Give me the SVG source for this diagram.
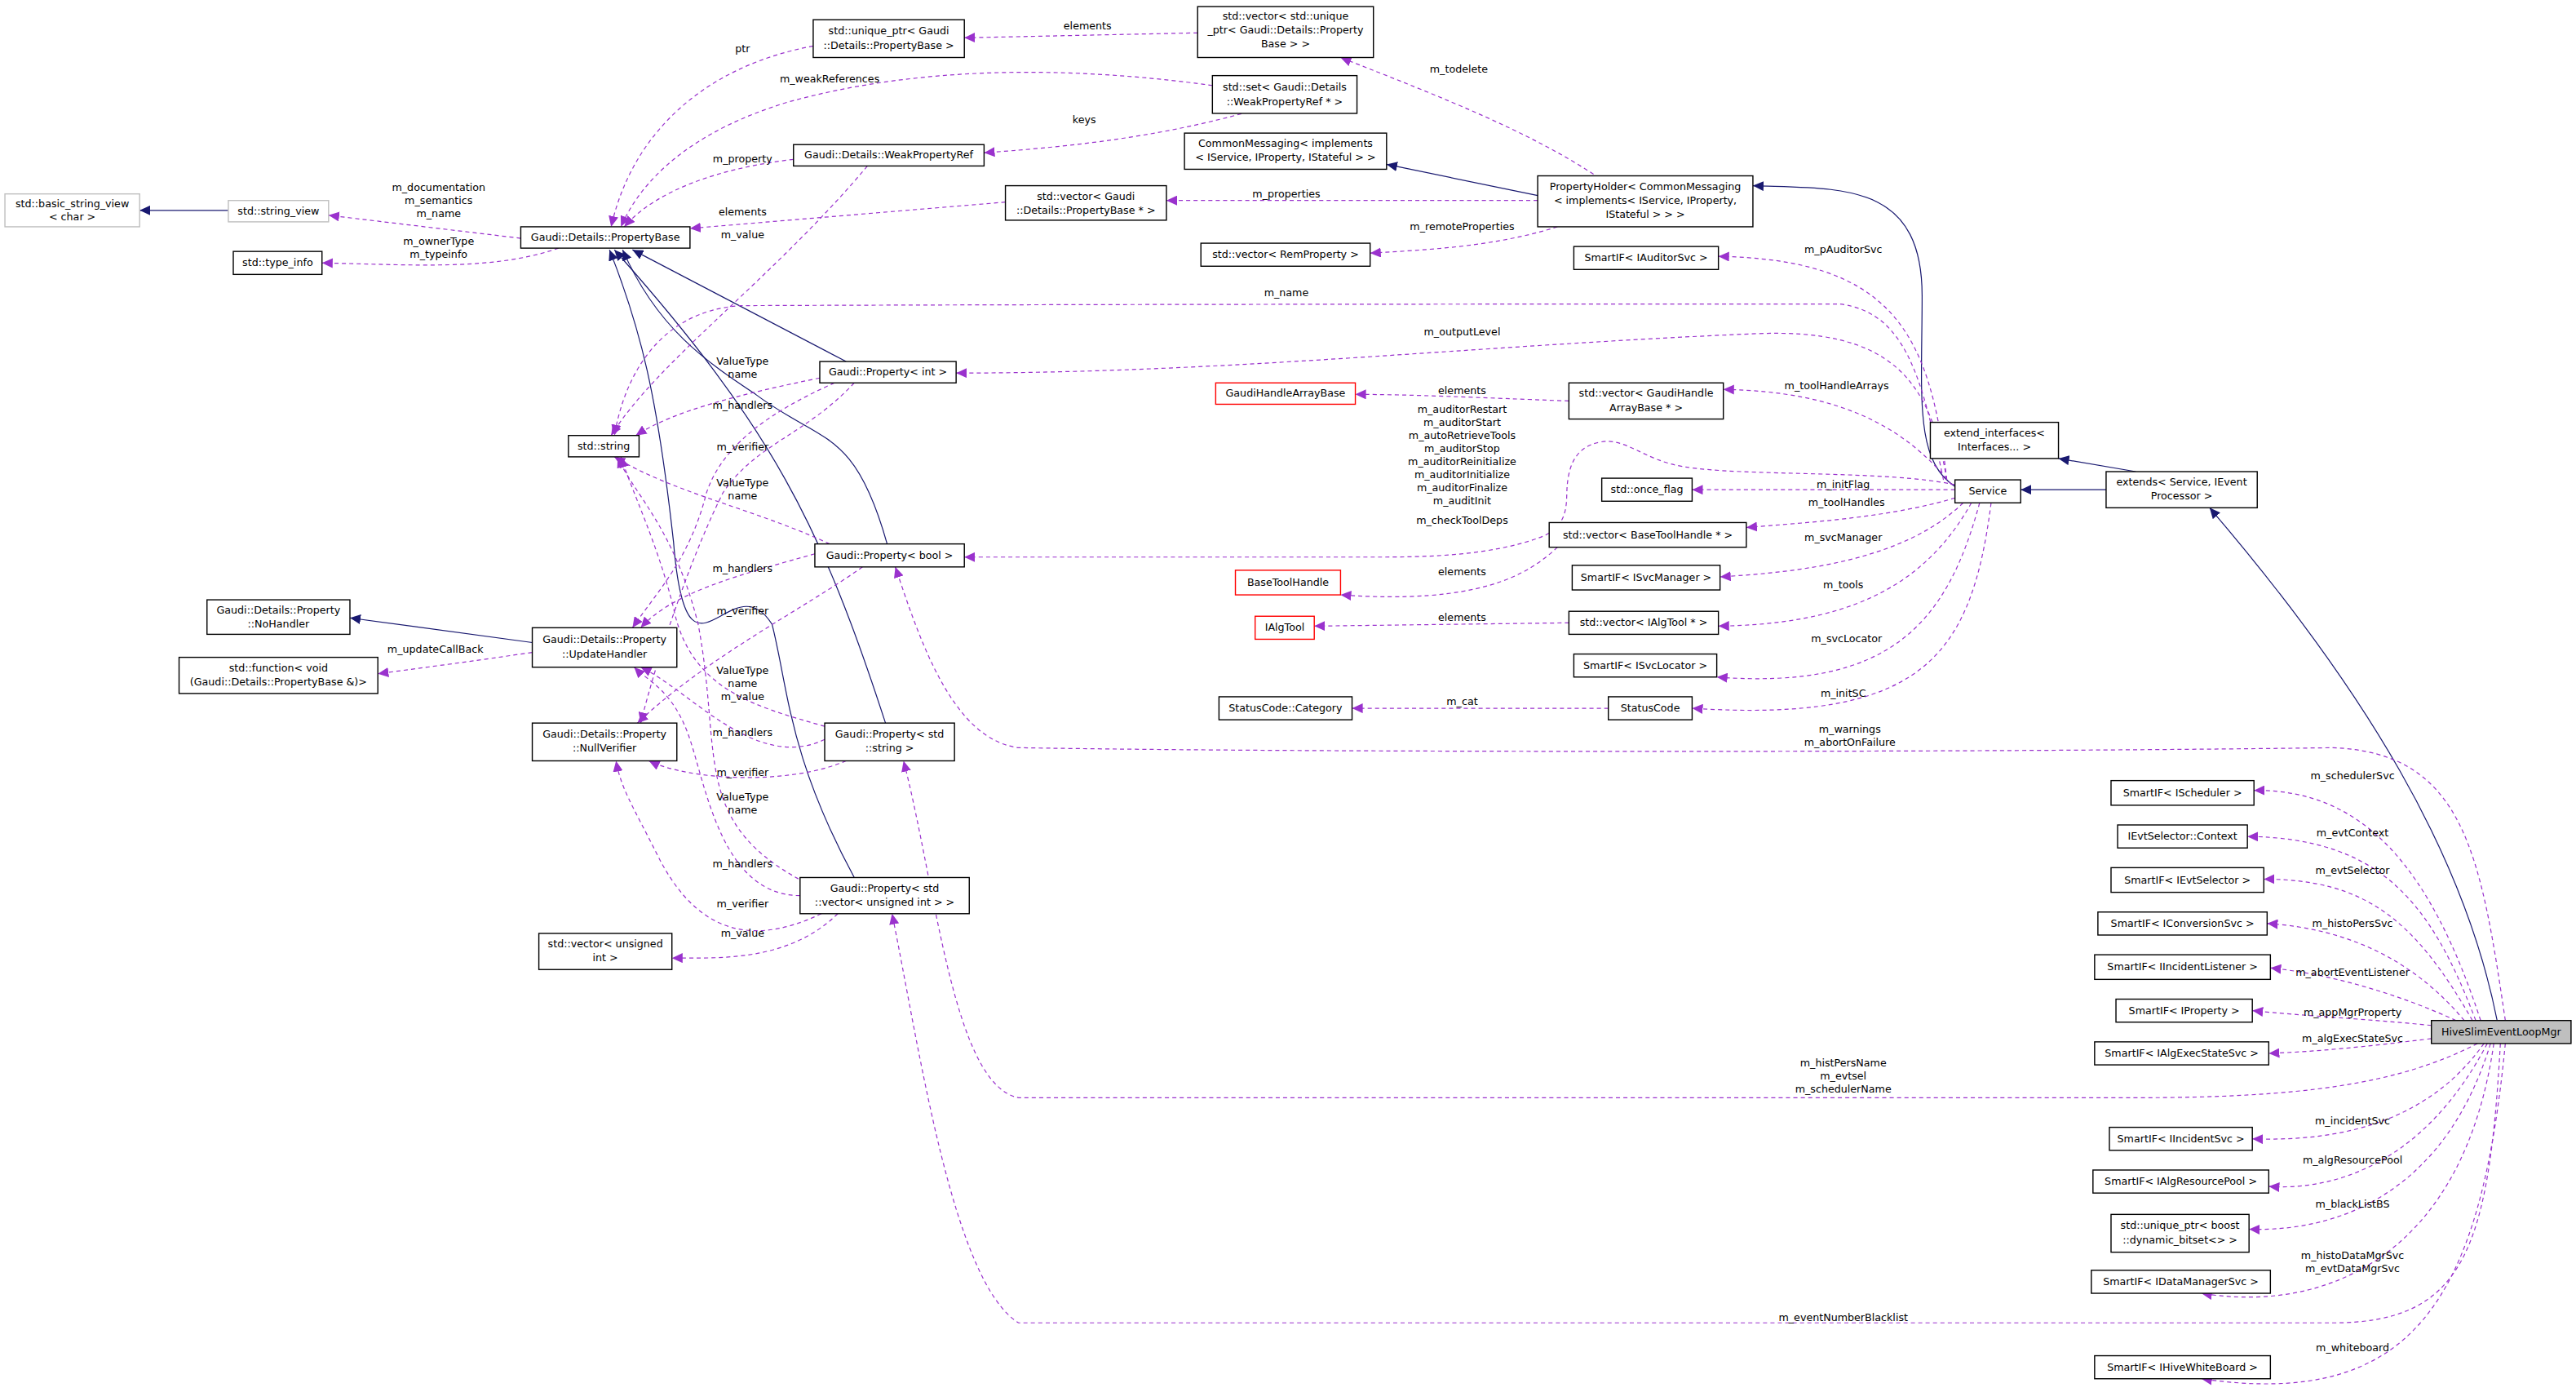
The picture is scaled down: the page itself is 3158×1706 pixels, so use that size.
<svg xmlns="http://www.w3.org/2000/svg" width="3158" height="1706" viewBox="0 0 3158 1706">
<style>
text{font-family:"DejaVu Sans","Liberation Sans",sans-serif;font-size:6.3px;fill:#000}
.n rect{fill:#fff;stroke:#000;stroke-width:0.7}
.n text{text-anchor:middle}
.g rect{stroke:#bfbfbf}
.r rect{stroke:#ff0000}
.h rect{fill:#bfbfbf}
.e{fill:none;stroke:#9a32cd;stroke-width:0.6;stroke-dasharray:2.5,2}
.i{fill:none;stroke:#191970;stroke-width:0.6}
.l{text-anchor:middle}
</style>
<defs>
<marker id="ap" markerUnits="userSpaceOnUse" markerWidth="7" markerHeight="6" refX="6.5" refY="3" orient="auto"><path d="M0,0 L6.5,3 L0,6 Z" fill="#9a32cd"/></marker>
<marker id="an" markerUnits="userSpaceOnUse" markerWidth="7" markerHeight="6" refX="6.5" refY="3" orient="auto"><path d="M0,0 L6.5,3 L0,6 Z" fill="#191970"/></marker>
</defs>
<rect width="3158" height="1706" fill="#fff"/>
<g transform="scale(2.014)">
<g id="connectors">
<path class="i" marker-end="url(#an)" d="M139,128 L85,128"/>
<path class="i" marker-end="url(#an)" d="M324,391 L213,376"/>
<path class="i" marker-end="url(#an)" d="M515,220 L385,152"/>
<path class="i" marker-end="url(#an)" d="M540,331 C520,260 500,270 460,240 C430,220 400,200 379,152"/>
<path class="i" marker-end="url(#an)" d="M539,440 C500,320 470,260 374,152"/>
<path class="i" marker-end="url(#an)" d="M520,534 C480,460 480,420 470,380 C445,340 418,430 410,330 C400,240 390,200 371,152"/>
<path class="i" marker-end="url(#an)" d="M936,119 L844,100"/>
<path class="i" marker-end="url(#an)" d="M1190,296 C1165,280 1170,240 1170,180 C1170,110 1120,115 1067,113"/>
<path class="i" marker-end="url(#an)" d="M1282,298 L1230,298"/>
<path class="i" marker-end="url(#an)" d="M1300,287 L1253,279"/>
<path class="i" marker-end="url(#an)" d="M1520,621 C1500,520 1440,420 1345,309"/>
<path class="e" marker-end="url(#ap)" d="M495,28 C430,40 385,80 372,138"/>
<path class="e" marker-end="url(#ap)" d="M729,20 L587,23"/>
<path class="e" marker-end="url(#ap)" d="M738,52 C650,40 560,40 480,62 C420,80 390,110 378,138"/>
<path class="e" marker-end="url(#ap)" d="M760,68 C700,85 640,90 599,93"/>
<path class="e" marker-end="url(#ap)" d="M483,97 C440,102 400,115 380,138"/>
<path class="e" marker-end="url(#ap)" d="M612,123 L420,139"/>
<path class="e" marker-end="url(#ap)" d="M528,101 C470,170 400,220 372,265"/>
<path class="e" marker-end="url(#ap)" d="M317,145 L200,131"/>
<path class="e" marker-end="url(#ap)" d="M340,151 C300,165 250,161 196,160"/>
<path class="e" marker-end="url(#ap)" d="M970,106 C930,80 880,60 816,35"/>
<path class="e" marker-end="url(#ap)" d="M936,122 L710,122"/>
<path class="e" marker-end="url(#ap)" d="M948,138 C910,150 870,152 834,154"/>
<path class="e" marker-end="url(#ap)" d="M1185,292 C1175,200 1150,158 1046,156"/>
<path class="e" marker-end="url(#ap)" d="M1183,292 C1170,230 1160,190 1120,185 C1000,185 700,185 450,186 C400,190 380,230 374,265"/>
<path class="e" marker-end="url(#ap)" d="M1185,292 C1175,230 1150,200 1070,203 C900,210 750,227 582,227"/>
<path class="e" marker-end="url(#ap)" d="M955,244 C900,242 860,240 825,240"/>
<path class="e" marker-end="url(#ap)" d="M1188,295 C1160,260 1120,238 1049,237"/>
<path class="e" marker-end="url(#ap)" d="M1190,295 C1150,286 1060,290 1025,284 C1000,280 990,266 974,269 C958,272 955,285 954,295 C953,305 956,318 940,326 C910,338 870,339 839,339 C750,339 650,339 587,339"/>
<path class="e" marker-end="url(#ap)" d="M1190,298 L1030,298"/>
<path class="e" marker-end="url(#ap)" d="M1190,303 C1150,315 1100,318 1063,321"/>
<path class="e" marker-end="url(#ap)" d="M948,333 C930,350 900,368 816,362"/>
<path class="e" marker-end="url(#ap)" d="M1195,306 C1160,340 1100,348 1047,351"/>
<path class="e" marker-end="url(#ap)" d="M1200,306 C1170,360 1120,380 1046,381"/>
<path class="e" marker-end="url(#ap)" d="M955,379 L800,381"/>
<path class="e" marker-end="url(#ap)" d="M1205,306 C1185,380 1150,420 1045,412"/>
<path class="e" marker-end="url(#ap)" d="M1212,306 C1200,400 1170,440 1030,431"/>
<path class="e" marker-end="url(#ap)" d="M979,431 L823,431"/>
<path class="e" marker-end="url(#ap)" d="M324,397 C290,402 260,406 230,410"/>
<path class="e" marker-end="url(#ap)" d="M499,230 C450,240 410,250 387,265"/>
<path class="e" marker-end="url(#ap)" d="M508,233 C470,250 440,270 430,300 C420,340 400,360 385,382"/>
<path class="e" marker-end="url(#ap)" d="M520,233 C490,265 460,270 440,300 C420,340 400,400 390,440"/>
<path class="e" marker-end="url(#ap)" d="M505,331 C460,310 410,300 374,278"/>
<path class="e" marker-end="url(#ap)" d="M496,337 C450,350 410,360 390,382"/>
<path class="e" marker-end="url(#ap)" d="M525,345 C490,370 430,400 388,440"/>
<path class="e" marker-end="url(#ap)" d="M502,442 C460,430 420,420 410,370 C400,330 385,300 378,278"/>
<path class="e" marker-end="url(#ap)" d="M502,450 C460,470 420,420 390,406"/>
<path class="e" marker-end="url(#ap)" d="M515,463 C480,478 420,475 395,463"/>
<path class="e" marker-end="url(#ap)" d="M490,537 C420,500 440,460 425,380 C410,320 385,300 376,278"/>
<path class="e" marker-end="url(#ap)" d="M487,545 C440,545 430,480 420,450 C410,420 395,415 386,406"/>
<path class="e" marker-end="url(#ap)" d="M500,556 C450,580 420,560 400,520 C385,490 378,480 375,463"/>
<path class="e" marker-end="url(#ap)" d="M510,556 C480,585 440,583 409,583"/>
<path class="e" marker-end="url(#ap)" d="M1525,621 C1510,520 1500,458 1420,455 C1200,458 800,458 620,455 C580,450 560,390 545,345"/>
<path class="e" marker-end="url(#ap)" d="M1508,635 C1460,660 1400,668 1300,668 C1100,668 800,668 620,668 C580,660 570,540 550,463"/>
<path class="e" marker-end="url(#ap)" d="M1522,635 C1515,760 1500,805 1420,805 C1200,805 800,805 620,805 C580,780 560,640 543,556"/>
<path class="e" marker-end="url(#ap)" d="M1510,621 C1480,530 1440,480 1372,481"/>
<path class="e" marker-end="url(#ap)" d="M1507,621 C1480,550 1450,510 1368,509"/>
<path class="e" marker-end="url(#ap)" d="M1505,621 C1470,560 1440,535 1378,535"/>
<path class="e" marker-end="url(#ap)" d="M1500,621 C1470,585 1430,565 1380,562"/>
<path class="e" marker-end="url(#ap)" d="M1495,621 C1460,605 1420,593 1382,589"/>
<path class="e" marker-end="url(#ap)" d="M1480,624 C1440,620 1400,618 1371,615"/>
<path class="e" marker-end="url(#ap)" d="M1480,632 C1440,637 1410,640 1381,641"/>
<path class="e" marker-end="url(#ap)" d="M1512,635 C1480,680 1430,695 1371,693"/>
<path class="e" marker-end="url(#ap)" d="M1514,635 C1480,700 1430,725 1381,722"/>
<path class="e" marker-end="url(#ap)" d="M1516,635 C1490,720 1430,750 1369,748"/>
<path class="e" marker-end="url(#ap)" d="M1518,635 C1500,760 1420,800 1340,787"/>
<path class="e" marker-end="url(#ap)" d="M1525,635 C1510,790 1470,858 1340,839"/>
</g>
<g id="labels">
<text class="l" x="452" y="32">ptr</text>
<text class="l" x="662" y="18">elements</text>
<text class="l" x="505" y="50">m_weakReferences</text>
<text class="l" x="660" y="75">keys</text>
<text class="l" x="452" y="99">m_property</text>
<text class="l" x="452" y="131">elements</text>
<text class="l" x="452" y="145">m_value</text>
<text class="l" x="267" y="116">m_documentation</text>
<text class="l" x="267" y="124">m_semantics</text>
<text class="l" x="267" y="132">m_name</text>
<text class="l" x="267" y="149">m_ownerType</text>
<text class="l" x="267" y="157">m_typeinfo</text>
<text class="l" x="265" y="397">m_updateCallBack</text>
<text class="l" x="888" y="44">m_todelete</text>
<text class="l" x="783" y="120">m_properties</text>
<text class="l" x="890" y="140">m_remoteProperties</text>
<text class="l" x="1122" y="154">m_pAuditorSvc</text>
<text class="l" x="783" y="180">m_name</text>
<text class="l" x="890" y="204">m_outputLevel</text>
<text class="l" x="890" y="240">elements</text>
<text class="l" x="1118" y="237">m_toolHandleArrays</text>
<text class="l" x="890" y="251">m_auditorRestart</text>
<text class="l" x="890" y="259">m_auditorStart</text>
<text class="l" x="890" y="267">m_autoRetrieveTools</text>
<text class="l" x="890" y="275">m_auditorStop</text>
<text class="l" x="890" y="283">m_auditorReinitialize</text>
<text class="l" x="890" y="291">m_auditorInitialize</text>
<text class="l" x="890" y="299">m_auditorFinalize</text>
<text class="l" x="890" y="307">m_auditInit</text>
<text class="l" x="890" y="319">m_checkToolDeps</text>
<text class="l" x="1122" y="297">m_initFlag</text>
<text class="l" x="1124" y="308">m_toolHandles</text>
<text class="l" x="890" y="350">elements</text>
<text class="l" x="1122" y="329">m_svcManager</text>
<text class="l" x="1122" y="358">m_tools</text>
<text class="l" x="890" y="378">elements</text>
<text class="l" x="1124" y="391">m_svcLocator</text>
<text class="l" x="1122" y="424">m_initSC</text>
<text class="l" x="890" y="429">m_cat</text>
<text class="l" x="1126" y="446">m_warnings</text>
<text class="l" x="1126" y="454">m_abortOnFailure</text>
<text class="l" x="452" y="222">ValueType</text>
<text class="l" x="452" y="230">name</text>
<text class="l" x="452" y="249">m_handlers</text>
<text class="l" x="452" y="274">m_verifier</text>
<text class="l" x="452" y="296">ValueType</text>
<text class="l" x="452" y="304">name</text>
<text class="l" x="452" y="348">m_handlers</text>
<text class="l" x="452" y="374">m_verifier</text>
<text class="l" x="452" y="410">ValueType</text>
<text class="l" x="452" y="418">name</text>
<text class="l" x="452" y="426">m_value</text>
<text class="l" x="452" y="448">m_handlers</text>
<text class="l" x="452" y="472">m_verifier</text>
<text class="l" x="452" y="487">ValueType</text>
<text class="l" x="452" y="495">name</text>
<text class="l" x="452" y="528">m_handlers</text>
<text class="l" x="452" y="552">m_verifier</text>
<text class="l" x="452" y="570">m_value</text>
<text class="l" x="1122" y="649">m_histPersName</text>
<text class="l" x="1122" y="657">m_evtsel</text>
<text class="l" x="1122" y="665">m_schedulerName</text>
<text class="l" x="1122" y="804">m_eventNumberBlacklist</text>
<text class="l" x="1432" y="474">m_schedulerSvc</text>
<text class="l" x="1432" y="509">m_evtContext</text>
<text class="l" x="1432" y="532">m_evtSelector</text>
<text class="l" x="1432" y="564">m_histoPersSvc</text>
<text class="l" x="1432" y="594">m_abortEventListener</text>
<text class="l" x="1432" y="618">m_appMgrProperty</text>
<text class="l" x="1432" y="634">m_algExecStateSvc</text>
<text class="l" x="1432" y="684">m_incidentSvc</text>
<text class="l" x="1432" y="708">m_algResourcePool</text>
<text class="l" x="1432" y="735">m_blackListBS</text>
<text class="l" x="1432" y="766">m_histoDataMgrSvc</text>
<text class="l" x="1432" y="774">m_evtDataMgrSvc</text>
<text class="l" x="1432" y="822">m_whiteboard</text>
</g>
<g id="n1" class="n g"><rect x="3" y="118" width="82" height="20"/><text x="44" y="126">std::basic_string_view</text><text x="44" y="134">&lt; char &gt;</text></g>
<g id="n2" class="n g"><rect x="139" y="122" width="61" height="13"/><text x="169.5" y="130.5">std::string_view</text></g>
<g id="n3" class="n"><rect x="142" y="153" width="54" height="14"/><text x="169" y="162">std::type_info</text></g>
<g id="n4" class="n"><rect x="317" y="138" width="103" height="13"/><text x="368.5" y="146.5">Gaudi::Details::PropertyBase</text></g>
<g id="n5" class="n"><rect x="495" y="12" width="92" height="23"/><text x="541" y="21">std::unique_ptr&lt; Gaudi</text><text x="541" y="30">::Details::PropertyBase &gt;</text></g>
<g id="n6" class="n"><rect x="729" y="4" width="107" height="31"/><text x="782.5" y="12">std::vector&lt; std::unique</text><text x="782.5" y="20.5">_ptr&lt; Gaudi::Details::Property</text><text x="782.5" y="29">Base &gt; &gt;</text></g>
<g id="n7" class="n"><rect x="738" y="46" width="88" height="23"/><text x="782" y="55">std::set&lt; Gaudi::Details</text><text x="782" y="64">::WeakPropertyRef * &gt;</text></g>
<g id="n8" class="n"><rect x="483" y="88" width="116" height="13"/><text x="541" y="96.5">Gaudi::Details::WeakPropertyRef</text></g>
<g id="n9" class="n"><rect x="721" y="81" width="123" height="22"/><text x="782.5" y="89.5">CommonMessaging&lt; implements</text><text x="782.5" y="98">&lt; IService, IProperty, IStateful &gt; &gt;</text></g>
<g id="n10" class="n"><rect x="612" y="113" width="98" height="21"/><text x="661" y="121.5">std::vector&lt; Gaudi</text><text x="661" y="130">::Details::PropertyBase * &gt;</text></g>
<g id="n11" class="n"><rect x="936" y="107" width="131" height="31"/><text x="1001.5" y="115.5">PropertyHolder&lt; CommonMessaging</text><text x="1001.5" y="124">&lt; implements&lt; IService, IProperty,</text><text x="1001.5" y="132.5">IStateful &gt; &gt; &gt;</text></g>
<g id="n12" class="n"><rect x="731" y="148" width="103" height="14"/><text x="782.5" y="157">std::vector&lt; RemProperty &gt;</text></g>
<g id="n13" class="n"><rect x="958" y="150" width="88" height="14"/><text x="1002" y="159">SmartIF&lt; IAuditorSvc &gt;</text></g>
<g id="n14" class="n"><rect x="499" y="220" width="83" height="13"/><text x="540.5" y="228.5">Gaudi::Property&lt; int &gt;</text></g>
<g id="n15" class="n"><rect x="346" y="265" width="43" height="13"/><text x="367.5" y="273.5">std::string</text></g>
<g id="n16" class="n r"><rect x="740" y="233" width="85" height="13"/><text x="782.5" y="241.5">GaudiHandleArrayBase</text></g>
<g id="n17" class="n"><rect x="955" y="233" width="94" height="22"/><text x="1002" y="241.5">std::vector&lt; GaudiHandle</text><text x="1002" y="250">ArrayBase * &gt;</text></g>
<g id="n18" class="n"><rect x="1175" y="257" width="78" height="22"/><text x="1214" y="265.5">extend_interfaces&lt;</text><text x="1214" y="274">Interfaces... &gt;</text></g>
<g id="n19" class="n"><rect x="975" y="291" width="55" height="14"/><text x="1002.5" y="300">std::once_flag</text></g>
<g id="n20" class="n"><rect x="1190" y="292" width="40" height="14"/><text x="1210" y="301">Service</text></g>
<g id="n21" class="n"><rect x="1282" y="287" width="92" height="22"/><text x="1328" y="295.5">extends&lt; Service, IEvent</text><text x="1328" y="304">Processor &gt;</text></g>
<g id="n22" class="n"><rect x="943" y="318" width="120" height="15"/><text x="1003" y="327.5">std::vector&lt; BaseToolHandle * &gt;</text></g>
<g id="n23" class="n"><rect x="496" y="331" width="91" height="14"/><text x="541.5" y="340">Gaudi::Property&lt; bool &gt;</text></g>
<g id="n24" class="n r"><rect x="752" y="347" width="64" height="15"/><text x="784" y="356.5">BaseToolHandle</text></g>
<g id="n25" class="n"><rect x="957" y="344" width="90" height="15"/><text x="1002" y="353.5">SmartIF&lt; ISvcManager &gt;</text></g>
<g id="n26" class="n"><rect x="126" y="365" width="87" height="21"/><text x="169.5" y="373.5">Gaudi::Details::Property</text><text x="169.5" y="382">::NoHandler</text></g>
<g id="n27" class="n"><rect x="324" y="382" width="88" height="24"/><text x="368" y="391.5">Gaudi::Details::Property</text><text x="368" y="400">::UpdateHandler</text></g>
<g id="n28" class="n r"><rect x="764" y="375" width="36" height="14"/><text x="782" y="384">IAlgTool</text></g>
<g id="n29" class="n"><rect x="955" y="372" width="91" height="14"/><text x="1000.5" y="381">std::vector&lt; IAlgTool * &gt;</text></g>
<g id="n30" class="n"><rect x="109" y="400" width="121" height="22"/><text x="169.5" y="408.5">std::function&lt; void</text><text x="169.5" y="417">(Gaudi::Details::PropertyBase &amp;)&gt;</text></g>
<g id="n31" class="n"><rect x="958" y="398" width="87" height="14"/><text x="1001.5" y="407">SmartIF&lt; ISvcLocator &gt;</text></g>
<g id="n32" class="n"><rect x="742" y="424" width="81" height="14"/><text x="782.5" y="433">StatusCode::Category</text></g>
<g id="n33" class="n"><rect x="979" y="424" width="51" height="14"/><text x="1004.5" y="433">StatusCode</text></g>
<g id="n34" class="n"><rect x="324" y="440" width="88" height="23"/><text x="368" y="449">Gaudi::Details::Property</text><text x="368" y="457.5">::NullVerifier</text></g>
<g id="n35" class="n"><rect x="502" y="440" width="79" height="23"/><text x="541.5" y="449">Gaudi::Property&lt; std</text><text x="541.5" y="457.5">::string &gt;</text></g>
<g id="n36" class="n"><rect x="1285" y="475" width="87" height="15"/><text x="1328.5" y="484.5">SmartIF&lt; IScheduler &gt;</text></g>
<g id="n37" class="n"><rect x="1289" y="502" width="79" height="14"/><text x="1328.5" y="511">IEvtSelector::Context</text></g>
<g id="n38" class="n"><rect x="1285" y="528" width="93" height="15"/><text x="1331.5" y="537.5">SmartIF&lt; IEvtSelector &gt;</text></g>
<g id="n39" class="n"><rect x="487" y="534" width="103" height="22"/><text x="538.5" y="542.5">Gaudi::Property&lt; std</text><text x="538.5" y="551">::vector&lt; unsigned int &gt; &gt;</text></g>
<g id="n40" class="n"><rect x="1277" y="555" width="103" height="14"/><text x="1328.5" y="564">SmartIF&lt; IConversionSvc &gt;</text></g>
<g id="n41" class="n"><rect x="328" y="568" width="81" height="22"/><text x="368.5" y="576.5">std::vector&lt; unsigned</text><text x="368.5" y="585">int &gt;</text></g>
<g id="n42" class="n"><rect x="1275" y="581" width="107" height="15"/><text x="1328.5" y="590.5">SmartIF&lt; IIncidentListener &gt;</text></g>
<g id="n43" class="n"><rect x="1288" y="608" width="83" height="14"/><text x="1329.5" y="617">SmartIF&lt; IProperty &gt;</text></g>
<g id="n44" class="n h"><rect x="1480" y="621" width="85" height="14"/><text x="1522.5" y="630">HiveSlimEventLoopMgr</text></g>
<g id="n45" class="n"><rect x="1275" y="634" width="106" height="14"/><text x="1328" y="643">SmartIF&lt; IAlgExecStateSvc &gt;</text></g>
<g id="n46" class="n"><rect x="1284" y="686" width="87" height="14"/><text x="1327.5" y="695">SmartIF&lt; IIncidentSvc &gt;</text></g>
<g id="n47" class="n"><rect x="1274" y="712" width="107" height="14"/><text x="1327.5" y="721">SmartIF&lt; IAlgResourcePool &gt;</text></g>
<g id="n48" class="n"><rect x="1285" y="739" width="84" height="23"/><text x="1327" y="748">std::unique_ptr&lt; boost</text><text x="1327" y="756.5">::dynamic_bitset&lt;&gt; &gt;</text></g>
<g id="n49" class="n"><rect x="1273" y="773" width="109" height="14"/><text x="1327.5" y="782">SmartIF&lt; IDataManagerSvc &gt;</text></g>
<g id="n50" class="n"><rect x="1275" y="825" width="107" height="14"/><text x="1328.5" y="834">SmartIF&lt; IHiveWhiteBoard &gt;</text></g>
</g>
</svg>
